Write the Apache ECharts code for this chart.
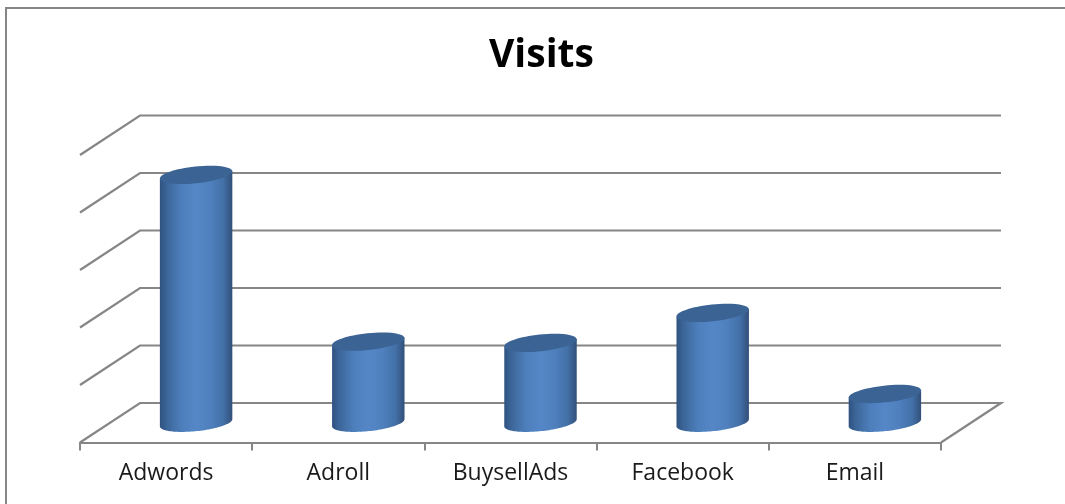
<!DOCTYPE html>
<html><head><meta charset="utf-8">
<style>html,body{margin:0;padding:0;background:#fff}#c{width:1065px;height:504px}</style>
<script src="https://cdn.jsdelivr.net/npm/echarts@6/dist/echarts.min.js"></script>
</head><body><div id="c"></div>
<script>
var categories = ['Adwords','Adroll','BuysellAds','Facebook','Email'];
var visits = [4.31, 1.41, 1.39, 1.91, 0.50];
var levels = [0,1,2,3,4,5];

var DX = 60, DY = -39.5;
function ell(cx,cy,rx,ry,rot,t){
  var c=Math.cos(rot), s=Math.sin(rot), x=rx*Math.cos(t), y=ry*Math.sin(t);
  return [cx+x*c-y*s, cy+x*s+y*c];
}
var chart = echarts.init(document.getElementById('c'), null, {renderer:'canvas'});
chart.setOption({
  animation:false,
  backgroundColor:'#fff',
  title:{text:'Visits',top:36,padding:0,left:489,
    textStyle:{fontFamily:'Open Sans',fontWeight:'bold',fontSize:39,color:'#000'}},
  grid:{left:80,width:861,top:155,height:287.5},
  xAxis:{type:'category',data:categories,
    axisLine:{show:true,lineStyle:{color:'#868686',width:2.2}},
    axisTick:{show:true,alignWithLabel:false,length:8,lineStyle:{color:'#868686',width:2}},
    axisLabel:{fontFamily:'Open Sans',fontSize:23,color:'#1a1a1a',margin:19},
    splitLine:{show:false}},
  yAxis:{type:'value',min:0,max:5,interval:1,show:false,splitLine:{show:false}},
  graphic:[{type:'polyline',silent:true,shape:{points:[[6,504],[6,8],[1065,8]]},
    style:{fill:null,stroke:'#868686',lineWidth:2}}],
  series:[
   {type:'custom',coordinateSystem:'cartesian2d',clip:false,z:1,
    data:levels.map(function(v){return [0,v];}),
    encode:{x:0,y:1},
    renderItem:function(params,api){
      var cs=params.coordSys, y=api.coord([0,api.value(1)])[1];
      var pts=[[cs.x,y],[cs.x+DX,y+DY],[cs.x+cs.width+DX,y+DY]];
      if(api.value(1)===0) pts.push([cs.x+cs.width,y]);
      return {type:'polyline',shape:{points:pts},style:{fill:null,stroke:'#868686',lineWidth:2.2}};
    }},
   {type:'custom',coordinateSystem:'cartesian2d',clip:false,z:3,
    data:visits.map(function(v,i){return [i,v];}),
    encode:{x:0,y:1},
    renderItem:function(params,api){
      var band=api.size([1,0])[0];
      var rx=band*0.2115, ry=8.4, rot=-6*Math.PI/180;
      var base=api.coord([api.value(0),0]), top=api.coord([api.value(0),api.value(1)]);
      var cx=base[0]+DX/2, by=base[1]+DY/2, ty=top[1]+DY/2;
      var pts=[], k;
      for(k=0;k<=60;k++){ pts.push(ell(cx,by,rx,ry,rot,Math.PI-Math.PI*k/60)); }
      pts.push(ell(cx,ty,rx,ry,rot,0));
      pts.push(ell(cx,ty,rx,ry,rot,Math.PI));
      var grad=new echarts.graphic.LinearGradient(0,0,1,0,[
        {offset:0,color:'#2f5280'},{offset:0.1,color:'#3c6699'},
        {offset:0.3,color:'#4d7fbc'},{offset:0.5,color:'#5587c8'},
        {offset:0.7,color:'#4f80bd'},{offset:0.88,color:'#426fa6'},{offset:1,color:'#324f78'}]);
      return {type:'group',children:[
        {type:'polygon',shape:{points:pts},style:{fill:grad}},
        {type:'ellipse',shape:{cx:0,cy:0,rx:rx,ry:ry},x:cx,y:ty,rotation:6*Math.PI/180,
          style:{fill:'#3b6495'}}
      ]};
    }}
  ]
});
</script></body></html>
